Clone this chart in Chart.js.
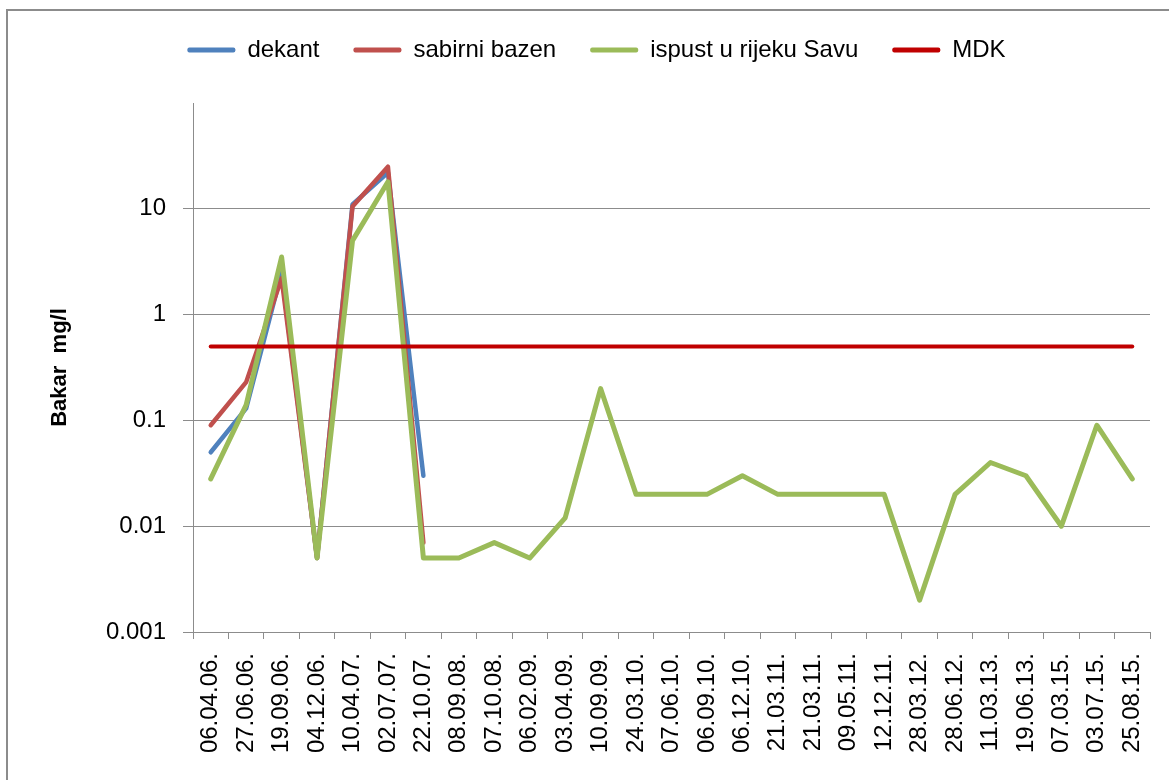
<!DOCTYPE html>
<html>
<head>
<meta charset="utf-8">
<script src="https://cdn.jsdelivr.net/npm/chart.js@4/dist/chart.umd.min.js"></script>
<style>
  html, body { margin: 0; padding: 0; background: #ffffff; overflow: hidden; }
  #wrap { position: absolute; left: 0; top: 0; width: 1169px; height: 780px; }
  #frame { position: absolute; left: 6px; top: 9px; width: 1200px; height: 820px; border: 2px solid #8c8c8c; box-sizing: border-box; pointer-events: none; }
  canvas { position: absolute; left: 0; top: 0; }
</style>
</head>
<body>
<div id="wrap">
  <canvas id="c" width="1169" height="780"></canvas>
  <div id="frame"></div>
</div>
<script>
const categories = ['06.04.06.', '27.06.06.', '19.09.06.', '04.12.06.', '10.04.07.', '02.07.07.', '22.10.07.', '08.09.08.', '07.10.08.', '06.02.09.', '03.04.09.', '10.09.09.', '24.03.10.', '07.06.10.', '06.09.10.', '06.12.10.', '21.03.11.', '21.03.11.', '09.05.11.', '12.12.11.', '28.03.12.', '28.06.12.', '11.03.13.', '19.06.13.', '07.03.15.', '03.07.15.', '25.08.15.'];

const dekant = [0.05, 0.13, 2.5, 0.005, 11, 22, 0.03, null, null, null, null, null, null, null, null, null, null, null, null, null, null, null, null, null, null, null, null];
const sabirniBazen = [0.09, 0.23, 2.2, 0.005, 10.5, 25, 0.007, null, null, null, null, null, null, null, null, null, null, null, null, null, null, null, null, null, null, null, null];
const ispust = [0.028, 0.14, 3.5, 0.005, 5, 18, 0.005, 0.005, 0.007, 0.005, 0.012, 0.2, 0.02, 0.02, 0.02, 0.03, 0.02, 0.02, 0.02, 0.02, 0.002, 0.02, 0.04, 0.03, 0.01, 0.09, 0.028];
const mdk = [0.5, 0.5, 0.5, 0.5, 0.5, 0.5, 0.5, 0.5, 0.5, 0.5, 0.5, 0.5, 0.5, 0.5, 0.5, 0.5, 0.5, 0.5, 0.5, 0.5, 0.5, 0.5, 0.5, 0.5, 0.5, 0.5, 0.5];

const yTickValues = [0.001, 0.01, 0.1, 1, 10];
const yTickLabels = ['0.001', '0.01', '0.1', '1', '10'];

const FONT = 'Liberation Sans, Arial, sans-serif';
const GRID = '#8c8c8c';

function line(label, data, color, order, width) {
  return {
    label, data, order,
    borderColor: color, backgroundColor: color,
    borderWidth: width, pointRadius: 0, pointHoverRadius: 0,
    tension: 0, spanGaps: false,
    borderJoinStyle: 'round', borderCapStyle: 'round'
  };
}

const layoutFix = {
  id: 'layoutFix',
  beforeLayout(chart) {
    const lg = chart.legend;
    if (lg && !lg._patched) {
      const origFit = lg.fit.bind(lg);
      lg.fit = function () { origFit(); this.height = 99; };
      lg._patched = true;
    }
  }
};

new Chart(document.getElementById('c'), {
  type: 'line',
  data: {
    labels: categories,
    datasets: [
      line('dekant', dekant, '#4F81BD', 3, 4.5),
      line('sabirni bazen', sabirniBazen, '#C0504D', 2, 4.5),
      line('ispust u rijeku Savu', ispust, '#9BBB59', 1, 5),
      line('MDK', mdk, '#C00000', 0, 4)
    ]
  },
  options: {
    responsive: false,
    animation: false,
    layout: { padding: { left: 43, right: 19, top: 4, bottom: 0 } },
    plugins: {
      tooltip: { enabled: false },
      legend: {
        position: 'top',
        labels: {
          font: { family: FONT, size: 24 },
          color: '#000000',
          boxWidth: 48,
          boxHeight: 5,
          padding: 34,
          sort: (a, b) => a.datasetIndex - b.datasetIndex,
          generateLabels(chart) {
            const items = Chart.defaults.plugins.legend.labels.generateLabels(chart);
            items.forEach(it => { it.lineWidth = 0; it.fillStyle = it.strokeStyle; it.borderRadius = 2; });
            return items;
          }
        }
      }
    },
    scales: {
      x: {
        type: 'category',
        offset: true,
        grid: { display: true, drawOnChartArea: false, drawTicks: true, tickLength: 7, offset: true, color: GRID, lineWidth: 1 },
        border: { display: true, color: GRID, width: 1 },
        ticks: {
          font: { family: FONT, size: 24 },
          color: '#000000',
          minRotation: 90, maxRotation: 90,
          autoSkip: false,
          padding: 14
        },
        afterFit(scale) { scale.height = 148; scale.paddingLeft = 0; scale.paddingRight = 0; }
      },
      y: {
        type: 'logarithmic',
        min: 0.001,
        max: 100,
        afterBuildTicks(scale) { scale.ticks = yTickValues.map(v => ({ value: v })); },
        grid: { display: true, drawOnChartArea: true, drawTicks: true, tickLength: 10, color: GRID, lineWidth: 1 },
        border: { display: true, color: GRID, width: 1 },
        ticks: {
          font: { family: FONT, size: 24 },
          color: '#000000',
          padding: 17,
          autoSkip: false,
          callback(value) {
            const i = yTickValues.findIndex(v => Math.abs(v - value) < v * 1e-6);
            return i >= 0 ? yTickLabels[i] : '';
          }
        },
        title: {
          display: true,
          text: 'Bakar  mg/l',
          color: '#000000',
          font: { family: FONT, size: 22, weight: 'bold' },
          padding: { top: 4, bottom: 0 }
        },
        afterFit(scale) { scale.width = 150; scale.paddingTop = 0; scale.paddingBottom = 0; }
      }
    }
  },
  plugins: [layoutFix]
});
</script>
</body>
</html>
